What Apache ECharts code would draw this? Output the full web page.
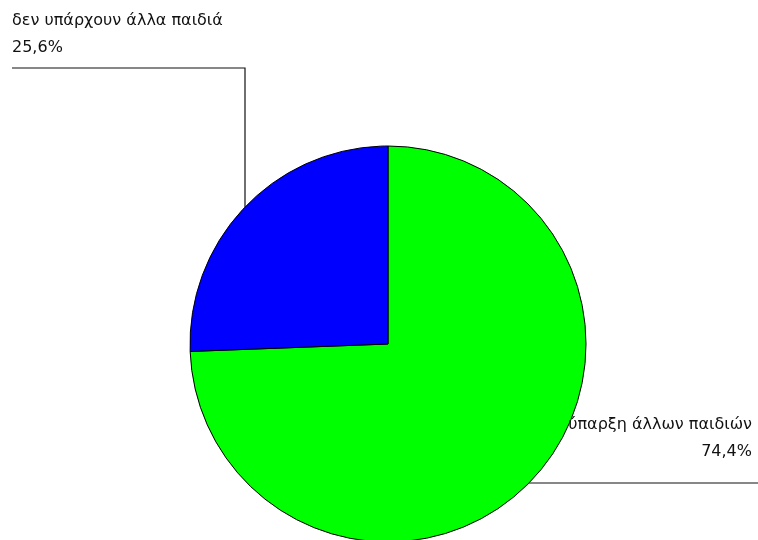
<!DOCTYPE html>
<html>
<head>
<meta charset="utf-8">
<script src="https://cdn.jsdelivr.net/npm/echarts@6/dist/echarts.min.js"></script>
<style>html,body{margin:0;padding:0;background:#fff;}#c{width:758px;height:540px;}</style>
</head>
<body>
<div id="c"></div>
<script>
const categories = ['ύπαρξη άλλων παιδιών', 'δεν υπάρχουν άλλα παιδιά'];
const values = [74.4, 25.6];
const colors = ['#00FF00', '#0000FF'];

const CX = 388, CY = 344, R = 198;
const chart = echarts.init(document.getElementById('c'), null, {renderer: 'canvas'});

function fmt(v) { return v.toFixed(1).replace('.', ',') + '%'; }

chart.setOption({
  animation: false,
  backgroundColor: '#fff',
  series: [{
    type: 'pie',
    center: [CX, CY],
    radius: R,
    startAngle: 90,
    clockwise: true,
    avoidLabelOverlap: false,
    data: categories.map((c, i) => ({name: c, value: values[i], itemStyle: {color: colors[i]}})),
    itemStyle: {borderColor: '#000', borderWidth: 1},
    emphasis: {disabled: true},
    label: {
      show: true,
      position: 'outer',
      formatter: p => p.name + '\n' + fmt(p.value),
      fontFamily: 'DejaVu Sans, sans-serif',
      fontSize: 16,
      color: '#111',
      lineHeight: 27
    },
    labelLine: {show: true, lineStyle: {color: '#111', width: 1.2}},
    labelLayout: function (params) {
      if (params.dataIndex === 1) {
        const lx = 245;
        const sy = CY - Math.sqrt(R * R - (lx - CX) * (lx - CX));
        return {
          x: 12, y: 7, align: 'left', verticalAlign: 'top',
          labelLinePoints: [[lx, sy], [lx, 68], [12, 68]]
        };
      } else {
        const ly = 483;
        const sx = CX + Math.sqrt(R * R - (ly - CY) * (ly - CY));
        return {
          x: 752, y: 411, align: 'right', verticalAlign: 'top',
          labelLinePoints: [[sx, ly], [sx, ly], [758, ly]]
        };
      }
    }
  }]
});
</script>
</body>
</html>
